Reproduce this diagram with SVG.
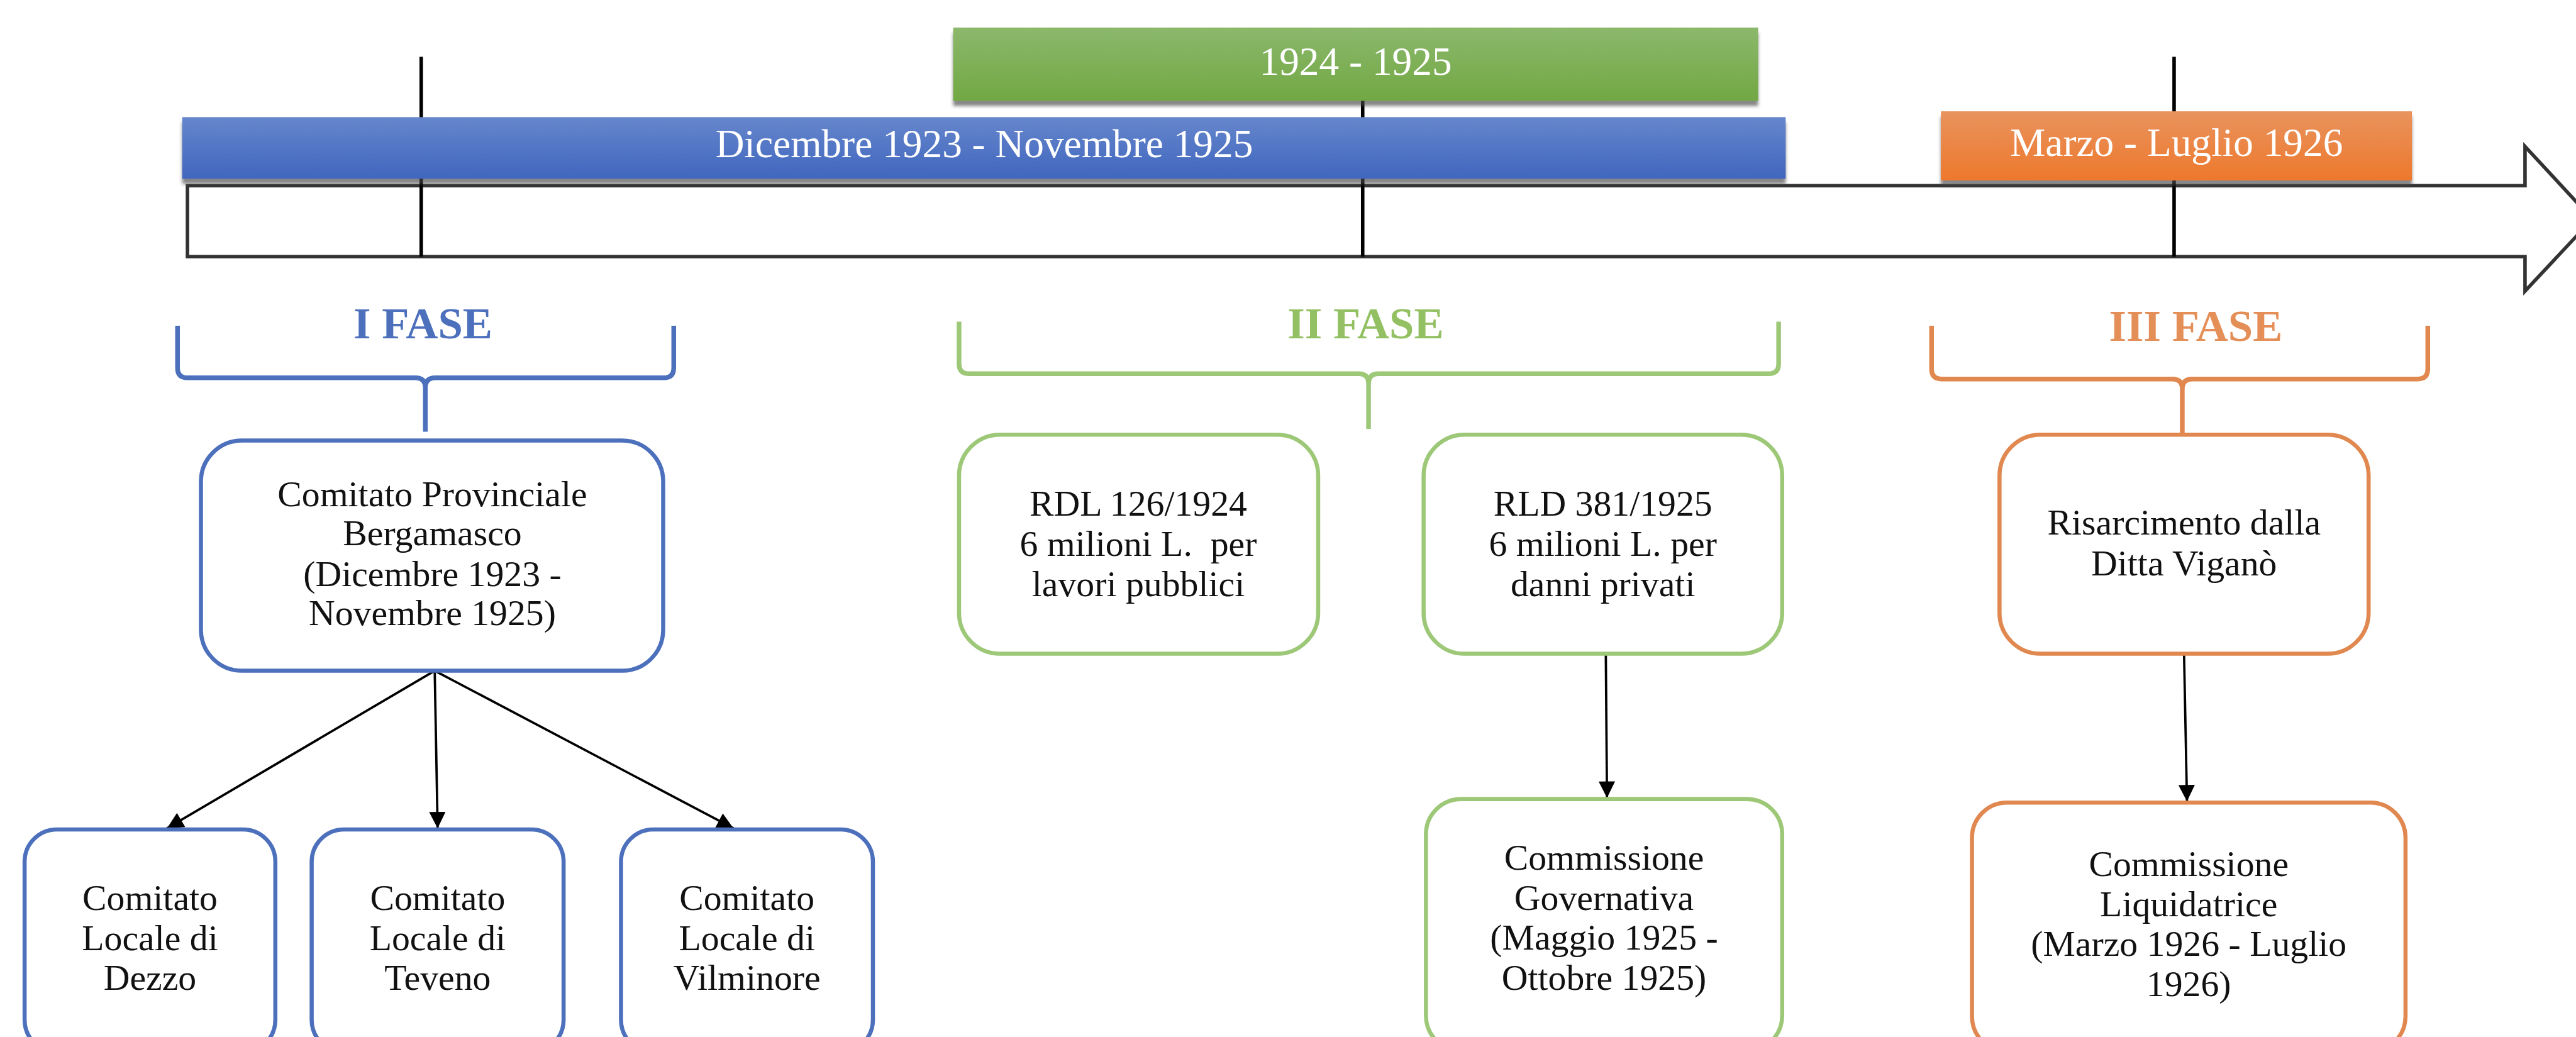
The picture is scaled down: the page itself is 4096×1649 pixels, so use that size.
<svg xmlns="http://www.w3.org/2000/svg" width="4096" height="1649" viewBox="0 0 4096 1649">
<style>
.t{font-family:"Liberation Serif","Times New Roman",serif;font-size:62px;fill:#111;text-anchor:middle}
.bt{font-family:"Liberation Serif","Times New Roman",serif;font-size:68px;fill:#fff;text-anchor:middle}
.ft{font-family:"Liberation Serif","Times New Roman",serif;font-size:76px;font-weight:bold;text-anchor:middle}
.box{fill:#fff;stroke-width:7}
.blue{stroke:#4C70BC}
.green{stroke:#9DC878}
.orange{stroke:#E0884F}
.brace{fill:none;stroke-width:8;stroke-linejoin:round}
.tick{stroke:#000;stroke-width:6}
.con{stroke:#000;stroke-width:4;fill:none}
</style>
<defs>
<linearGradient id="gb" x1="0" y1="0" x2="0" y2="1"><stop offset="0" stop-color="#6686CC"/><stop offset="1" stop-color="#4066BE"/></linearGradient>
<linearGradient id="gg" x1="0" y1="0" x2="0" y2="1"><stop offset="0" stop-color="#8CB86C"/><stop offset="1" stop-color="#71A843"/></linearGradient>
<linearGradient id="go" x1="0" y1="0" x2="0" y2="1"><stop offset="0" stop-color="#E8935E"/><stop offset="1" stop-color="#EE782C"/></linearGradient>
<filter id="sh" x="-5%" y="-20%" width="110%" height="160%"><feDropShadow dx="0" dy="9" stdDeviation="3" flood-color="#444" flood-opacity="0.65"/></filter>
<marker id="ah" viewBox="0 0 10 10" refX="10" refY="5" markerWidth="32" markerHeight="28" markerUnits="userSpaceOnUse" orient="auto"><path d="M0,0 L10,5 L0,10 z" fill="#000"/></marker>
</defs>
<g transform="scale(0.93154)">
<g id="timeline">
<path d="M320,317 H4310 V250 L4425,374 L4310,497 V438 H320 Z" fill="#fff" stroke="#333" stroke-width="6" stroke-linejoin="miter"/>
<line class="tick" x1="719" y1="97" x2="719" y2="438"/>
<line class="tick" x1="2326" y1="160" x2="2326" y2="438"/>
<line class="tick" x1="3711" y1="97" x2="3711" y2="438"/>
</g>
<g id="bar-green">
<rect x="1627" y="47" width="1374" height="125" fill="url(#gg)" filter="url(#sh)"/>
<text class="bt" x="2314" y="128">1924 - 1925</text>
</g>
<g id="bar-blue">
<rect x="311" y="200" width="2737" height="105" fill="url(#gb)" filter="url(#sh)"/>
<text class="bt" x="1680" y="268">Dicembre 1923 - Novembre 1925</text>
</g>
<g id="bar-orange">
<rect x="3313" y="190" width="804" height="118" fill="url(#go)" filter="url(#sh)"/>
<text class="bt" x="3715" y="266">Marzo - Luglio 1926</text>
</g>
<g id="fase1">
<text class="ft" x="722" y="578" fill="#4C70BC">I FASE</text>
<path class="brace blue" d="M303,556 V628 Q303,645 320,645 H709 Q726,645 726,662 V737 M1150,556 V628 Q1150,645 1133,645 H743 Q726,645 726,662"/>
</g>
<g id="fase2">
<text class="ft" x="2331" y="578" fill="#93C062">II FASE</text>
<path class="brace green" d="M1637,549 V621 Q1637,638 1654,638 H2319 Q2336,638 2336,655 V732 M3036,549 V621 Q3036,638 3019,638 H2353 Q2336,638 2336,655"/>
</g>
<g id="fase3">
<text class="ft" x="3748" y="582" fill="#E58F58">III FASE</text>
<path class="brace orange" d="M3297,556 V630 Q3297,647 3314,647 H3708 Q3725,647 3725,664 V739 M4144,556 V630 Q4144,647 4127,647 H3742 Q3725,647 3725,664"/>
</g>
<g id="connectors">
<line class="con" x1="742" y1="1145" x2="285" y2="1414" marker-end="url(#ah)"/>
<line class="con" x1="742" y1="1145" x2="747" y2="1414" marker-end="url(#ah)"/>
<line class="con" x1="742" y1="1145" x2="1252" y2="1414" marker-end="url(#ah)"/>
<line class="con" x1="2741" y1="1117" x2="2743" y2="1362" marker-end="url(#ah)"/>
<line class="con" x1="3728" y1="1117" x2="3733" y2="1368" marker-end="url(#ah)"/>
</g>
<g id="n-provinciale">
<rect class="box blue" x="343" y="752" width="789" height="393" rx="70"/>
<text class="t" x="738" y="864">Comitato Provinciale</text>
<text class="t" x="738" y="931">Bergamasco</text>
<text class="t" x="738" y="1000">(Dicembre 1923 -</text>
<text class="t" x="738" y="1067">Novembre 1925)</text>
</g>
<g id="n-dezzo">
<rect class="box blue" x="42" y="1416" width="428" height="380" rx="55"/>
<text class="t" x="256" y="1553">Comitato</text>
<text class="t" x="256" y="1622">Locale di</text>
<text class="t" x="256" y="1690">Dezzo</text>
</g>
<g id="n-teveno">
<rect class="box blue" x="532" y="1416" width="430" height="380" rx="55"/>
<text class="t" x="747" y="1553">Comitato</text>
<text class="t" x="747" y="1622">Locale di</text>
<text class="t" x="747" y="1690">Teveno</text>
</g>
<g id="n-vilminore">
<rect class="box blue" x="1060" y="1416" width="430" height="380" rx="55"/>
<text class="t" x="1275" y="1553">Comitato</text>
<text class="t" x="1275" y="1622">Locale di</text>
<text class="t" x="1275" y="1690">Vilminore</text>
</g>
<g id="n-rdl">
<rect class="box green" x="1637" y="742" width="613" height="374" rx="70"/>
<text class="t" x="1943" y="880">RDL 126/1924</text>
<text class="t" x="1943" y="949" xml:space="preserve">6 milioni L.  per</text>
<text class="t" x="1943" y="1018">lavori pubblici</text>
</g>
<g id="n-rld">
<rect class="box green" x="2430" y="742" width="612" height="374" rx="70"/>
<text class="t" x="2736" y="880">RLD 381/1925</text>
<text class="t" x="2736" y="949">6 milioni L. per</text>
<text class="t" x="2736" y="1018">danni privati</text>
</g>
<g id="n-governativa">
<rect class="box green" x="2434" y="1364" width="608" height="430" rx="60"/>
<text class="t" x="2738" y="1485">Commissione</text>
<text class="t" x="2738" y="1553">Governativa</text>
<text class="t" x="2738" y="1621">(Maggio 1925 -</text>
<text class="t" x="2738" y="1690">Ottobre 1925)</text>
</g>
<g id="n-risarcimento">
<rect class="box orange" x="3413" y="742" width="630" height="374" rx="70"/>
<text class="t" x="3728" y="913">Risarcimento dalla</text>
<text class="t" x="3728" y="982">Ditta Viganò</text>
</g>
<g id="n-liquidatrice">
<rect class="box orange" x="3366" y="1370" width="740" height="425" rx="60"/>
<text class="t" x="3736" y="1495">Commissione</text>
<text class="t" x="3736" y="1564">Liquidatrice</text>
<text class="t" x="3736" y="1632">(Marzo 1926 - Luglio</text>
<text class="t" x="3736" y="1700">1926)</text>
</g>
</g>
</svg>
